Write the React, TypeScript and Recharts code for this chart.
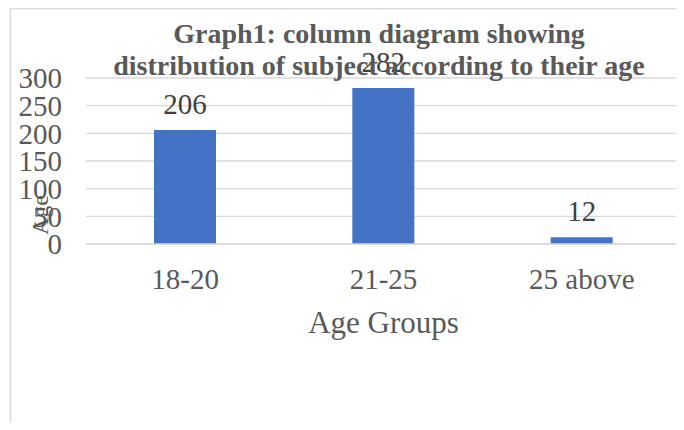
import React from 'react';
import { BarChart, Bar, XAxis, YAxis, CartesianGrid, LabelList } from 'recharts';

const categories = ['18-20', '21-25', '25 above'];
const counts = [206, 282, 12];
const yTicks = [0, 50, 100, 150, 200, 250, 300];
const titleLines = ['Graph1: column diagram showing', 'distribution of subject according to their age'];
const xTitle = 'Age Groups';
const yTitle = 'Age';

const data = categories.map((c, i) => ({ group: c, count: counts[i] }));

const FONT = '"Liberation Serif", "Times New Roman", Times, serif';
const GRID = '#D9D9D9';
const TEXT = '#595959';

export default function App() {
  return (
    <div style={{ position: 'relative', width: 684, height: 430, margin: -8, overflow: 'hidden', background: '#fff' }}>
      <BarChart
        width={684}
        height={430}
        data={data}
        margin={{ top: 78, right: 3, left: 10, bottom: 86 }}
        barCategoryGap={0}
      >
        <CartesianGrid vertical={false} stroke={GRID} strokeWidth={1.3} />
        <XAxis
          dataKey="group"
          height={100}
          axisLine={{ stroke: GRID, strokeWidth: 1.3 }}
          tickLine={false}
          tickSize={0}
          tickMargin={24}
          tick={{ fontSize: 29, fill: TEXT, fontFamily: FONT }}
          label={{ value: xTitle, position: 'insideBottom', offset: 11, fontSize: 31, fill: TEXT, fontFamily: FONT }}
        />
        <YAxis
          width={76}
          domain={[0, 300]}
          ticks={yTicks}
          interval={0}
          axisLine={false}
          tickLine={false}
          tickSize={0}
          tickMargin={24}
          tick={{ fontSize: 29, fill: TEXT, fontFamily: FONT }}
        />
        <Bar dataKey="count" fill="#4472C4" barSize={62} isAnimationActive={false}>
          <LabelList dataKey="count" position="top" offset={16} fill="#404040" fontSize={29} fontFamily={FONT} />
        </Bar>
      </BarChart>
      <svg
        width={684}
        height={430}
        style={{ position: 'absolute', left: 0, top: 0, pointerEvents: 'none' }}
      >
        <line x1={10.5} y1={8.5} x2={684} y2={8.5} stroke={GRID} strokeWidth={1.5} />
        <line x1={10.5} y1={8.5} x2={10.5} y2={430} stroke={GRID} strokeWidth={1.5} />
        {titleLines.map((t, i) => (
          <text
            key={t}
            x={379}
            y={43 + i * 32}
            textAnchor="middle"
            fontFamily={FONT}
            fontWeight="bold"
            fontSize={28}
            fill={TEXT}
          >
            {t}
          </text>
        ))}
        <text
          x={48}
          y={215}
          transform="rotate(-90 48 215)"
          textAnchor="middle"
          fontFamily={FONT}
          fontSize={24}
          fill={TEXT}
        >
          {yTitle}
        </text>
      </svg>
    </div>
  );
}
